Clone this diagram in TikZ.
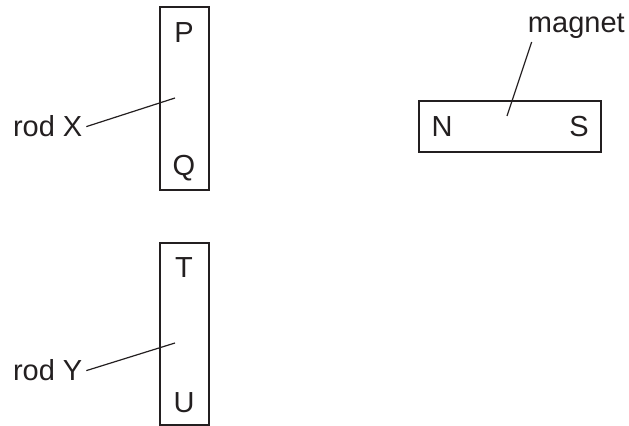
\documentclass[tikz,border=0pt]{standalone}
\usepackage{fontspec}
\setmainfont{Liberation Sans}
\usetikzlibrary{positioning}
\definecolor{ink}{HTML}{231F20}
\tikzset{
	lbl/.style={inner sep=0pt,text=ink,font=\fontsize{14.5}{17}\selectfont},
	bar/.style={draw=ink,line width=1.2pt,inner sep=0pt},
	lead/.style={draw=ink,line width=0.6pt}
}
\begin{document}
\begin{tikzpicture}[x=0.5pt,y=-0.5pt]
		\useasboundingbox (0,0) rectangle (629,426);
		% rods and magnet
		\node[bar,minimum width=24.5pt,minimum height=91.5pt] (rx) at (184.5,98.5) {};
		\node[bar,minimum width=24.5pt,minimum height=91pt] (ry) at (184.5,334) {};
		\node[bar,minimum width=91pt,minimum height=25.5pt] (mg) at (510,126.5) {};
		% end letters
		\node[lbl,anchor=base] (p) at (184,43) {P};
		\node[lbl,anchor=base] (q) at (184,176) {Q};
		\node[lbl,anchor=base] (t) at (184,278) {T};
		\node[lbl,anchor=base] (u) at (184,413) {U};
		\node[lbl,anchor=base] (n) at (442,137) {N};
		\node[lbl,anchor=base] (s) at (579,137) {S};
		% labels
		\node[lbl,anchor=base west,outer sep=2pt] (rxl) at (9,137) {rod X};
		\node[lbl,anchor=base west,outer sep=2pt] (ryl) at (9,381) {rod Y};
		\node[lbl,anchor=base west,outer sep=1.5pt] (mgl) at (525,33) {magnet};
		\coordinate (rxt) at (175,98);
		\coordinate (ryt) at (175,343);
		\coordinate (mgt) at (507,116);
		\draw[lead] (rxl.east) to (rxt);
		\draw[lead] (ryl.east) to (ryt);
		\draw[lead] (mgl.199) to (mgt);
	\end{tikzpicture}
\end{document}
